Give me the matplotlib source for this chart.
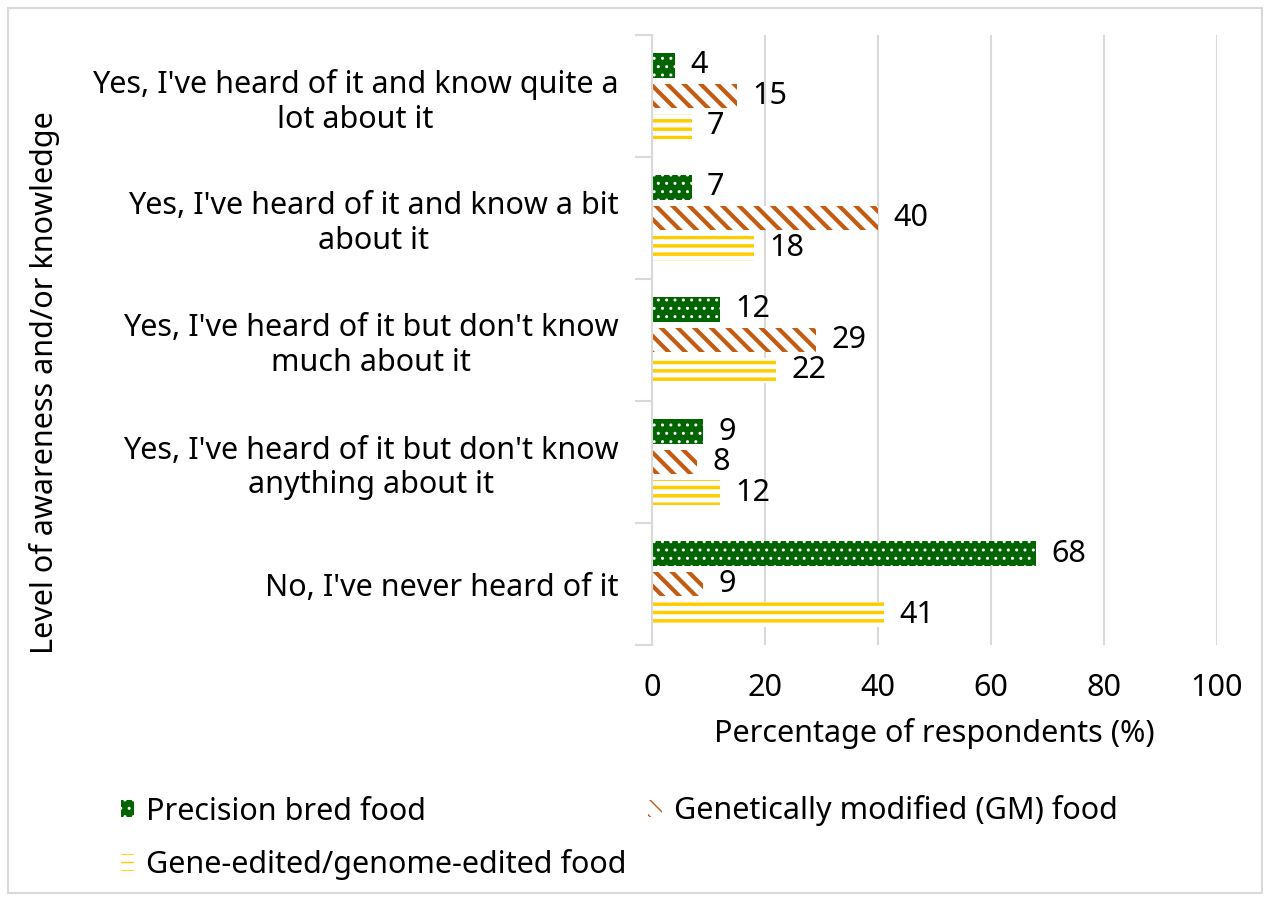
import matplotlib
matplotlib.use("Agg")
import matplotlib.pyplot as plt
import numpy as np
from matplotlib.patches import Rectangle

plt.rcParams["font.family"] = ["Noto Sans", "DejaVu Sans"]

categories = [
    "Yes, I've heard of it and know quite a\nlot about it",
    "Yes, I've heard of it and know a bit\nabout it",
    "Yes, I've heard of it but don't know\nmuch about it",
    "Yes, I've heard of it but don't know\nanything about it",
    "No, I've never heard of it",
]
series_names = [
    "Precision bred food",
    "Genetically modified (GM) food",
    "Gene-edited/genome-edited food",
]
precision_bred = [4, 7, 12, 9, 68]
gm_food = [15, 40, 29, 8, 9]
gene_edited = [7, 18, 22, 12, 41]

x_ticks = [0, 20, 40, 60, 80, 100]

green = "#006400"
orange = "#c55a11"
yellow = "#ffcc00"
FS = 22

fig = plt.figure(figsize=(12.7, 9.01), dpi=100)
ax = fig.add_axes([0.5134, 0.2841, 0.4449, 0.6771])

y = np.arange(len(categories))
h = 0.2
styles = [
    (precision_bred, -0.25, dict(facecolor=green, edgecolor="white", hatch=".."), 1.0),
    (gm_food, 0.0, dict(facecolor="white", edgecolor=orange, hatch="\\\\"), 3.0),
    (gene_edited, 0.25, dict(facecolor="white", edgecolor=yellow, hatch="--"), 2.5),
]
handles = []
for (vals, off, kw, hlw), name in zip(styles, series_names):
    with plt.rc_context({"hatch.linewidth": hlw}):
        bars = ax.barh(y + off, vals, height=h, linewidth=0, label=name, **kw)
    for b in bars:
        if hasattr(b, "set_hatch_linewidth"):
            b.set_hatch_linewidth(hlw)
    handles.append(bars)
    for yy, v in zip(y + off, vals):
        ax.annotate(str(v), (v, yy), xytext=(11, 0), textcoords="offset points",
                    ha="left", va="center", fontsize=FS)

ax.set_xlim(0, 100)
ax.set_ylim(4.5, -0.5)
ax.set_xticks(x_ticks)
ax.set_yticks(np.arange(-0.5, 5, 1.0))
ax.set_yticklabels([])
ax.set_yticks(y, minor=True)
ax.set_yticklabels(categories, minor=True, fontsize=FS, ha="right", multialignment="center")
ax.tick_params(axis="y", which="minor", length=0, pad=24)
ax.tick_params(axis="y", which="major", length=12, color="#d9d9d9", width=1.5)
ax.tick_params(axis="x", length=0, labelsize=FS, pad=20)
ax.grid(axis="x", color="#d9d9d9", linewidth=1.5)
ax.set_axisbelow(True)
for s in ["top", "right", "bottom"]:
    ax.spines[s].set_visible(False)
ax.spines["left"].set_color("#d9d9d9")
ax.spines["left"].set_linewidth(1.5)

ax.set_xlabel("Percentage of respondents (%)", fontsize=FS, labelpad=11)
fig.text(45 / 1270, 1 - 383 / 901, "Level of awareness and/or knowledge",
         rotation=90, ha="center", va="center", fontsize=FS)

leg = fig.legend([handles[0], handles[2], handles[1]],
                 [series_names[0], series_names[2], series_names[1]],
                 ncol=2, loc="upper left", bbox_to_anchor=(93 / 1270, 1 - 768 / 901),
                 frameon=False, fontsize=FS, handlelength=0.45, handleheight=0.45,
                 handletextpad=0.4, columnspacing=0.7, labelspacing=0.75)

fig.add_artist(Rectangle((8 / 1270, 8 / 901), 1254 / 1270, 885 / 901, transform=fig.transFigure,
                         fill=False, edgecolor="#d9d9d9", linewidth=1.5))

fig.savefig("out.png", dpi=100)
